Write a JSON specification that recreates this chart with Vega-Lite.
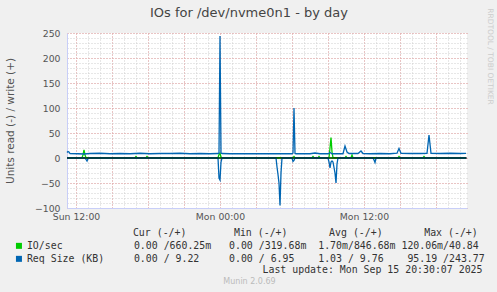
{
  "$schema": "https://vega.github.io/schema/vega-lite/v6.json",
  "width": 400,
  "height": 175,
  "autosize": {"type": "none"},
  "padding": {"left": 67, "top": 33, "right": 30, "bottom": 84},
  "background": "#f0f0f0",
  "title": {"text": "IOs for /dev/nvme0n1 - by day", "anchor": "middle", "frame": "group", "dx": -18, "font": "DejaVu Sans", "fontSize": 13, "fontWeight": "normal", "color": "#444444", "offset": -12},
  "datasets": {
    "io": [
      {"time": "2025-09-14T11:15:00Z", "series": "IO/sec", "dir": "write", "value": 0.6},
      {"time": "2025-09-14T12:30:00Z", "series": "IO/sec", "dir": "write", "value": 0.6},
      {"time": "2025-09-14T12:35:00Z", "series": "IO/sec", "dir": "write", "value": 6},
      {"time": "2025-09-14T12:40:00Z", "series": "IO/sec", "dir": "write", "value": 16},
      {"time": "2025-09-14T12:45:00Z", "series": "IO/sec", "dir": "write", "value": 6},
      {"time": "2025-09-14T12:50:00Z", "series": "IO/sec", "dir": "write", "value": 0.6},
      {"time": "2025-09-14T16:55:00Z", "series": "IO/sec", "dir": "write", "value": 0.6},
      {"time": "2025-09-14T17:00:00Z", "series": "IO/sec", "dir": "write", "value": 3},
      {"time": "2025-09-14T17:05:00Z", "series": "IO/sec", "dir": "write", "value": 0.6},
      {"time": "2025-09-14T17:50:00Z", "series": "IO/sec", "dir": "write", "value": 0.6},
      {"time": "2025-09-14T17:55:00Z", "series": "IO/sec", "dir": "write", "value": 3},
      {"time": "2025-09-14T18:00:00Z", "series": "IO/sec", "dir": "write", "value": 0.6},
      {"time": "2025-09-14T23:50:00Z", "series": "IO/sec", "dir": "write", "value": 0.6},
      {"time": "2025-09-14T23:55:00Z", "series": "IO/sec", "dir": "write", "value": 7},
      {"time": "2025-09-15T00:00:00Z", "series": "IO/sec", "dir": "write", "value": 10},
      {"time": "2025-09-15T00:05:00Z", "series": "IO/sec", "dir": "write", "value": 2},
      {"time": "2025-09-15T00:10:00Z", "series": "IO/sec", "dir": "write", "value": 0.6},
      {"time": "2025-09-15T06:05:00Z", "series": "IO/sec", "dir": "write", "value": 0.6},
      {"time": "2025-09-15T06:10:00Z", "series": "IO/sec", "dir": "write", "value": 3},
      {"time": "2025-09-15T06:15:00Z", "series": "IO/sec", "dir": "write", "value": 0.6},
      {"time": "2025-09-15T07:40:00Z", "series": "IO/sec", "dir": "write", "value": 0.6},
      {"time": "2025-09-15T07:45:00Z", "series": "IO/sec", "dir": "write", "value": 3},
      {"time": "2025-09-15T07:50:00Z", "series": "IO/sec", "dir": "write", "value": 0.6},
      {"time": "2025-09-15T08:10:00Z", "series": "IO/sec", "dir": "write", "value": 0.6},
      {"time": "2025-09-15T08:15:00Z", "series": "IO/sec", "dir": "write", "value": 3},
      {"time": "2025-09-15T08:20:00Z", "series": "IO/sec", "dir": "write", "value": 0.6},
      {"time": "2025-09-15T09:05:00Z", "series": "IO/sec", "dir": "write", "value": 0.6},
      {"time": "2025-09-15T09:10:00Z", "series": "IO/sec", "dir": "write", "value": 20},
      {"time": "2025-09-15T09:15:00Z", "series": "IO/sec", "dir": "write", "value": 40.84},
      {"time": "2025-09-15T09:20:00Z", "series": "IO/sec", "dir": "write", "value": 12},
      {"time": "2025-09-15T09:25:00Z", "series": "IO/sec", "dir": "write", "value": 0.6},
      {"time": "2025-09-15T10:25:00Z", "series": "IO/sec", "dir": "write", "value": 0.6},
      {"time": "2025-09-15T10:30:00Z", "series": "IO/sec", "dir": "write", "value": 3},
      {"time": "2025-09-15T10:35:00Z", "series": "IO/sec", "dir": "write", "value": 0.6},
      {"time": "2025-09-15T10:55:00Z", "series": "IO/sec", "dir": "write", "value": 0.6},
      {"time": "2025-09-15T11:00:00Z", "series": "IO/sec", "dir": "write", "value": 6},
      {"time": "2025-09-15T11:05:00Z", "series": "IO/sec", "dir": "write", "value": 0.6},
      {"time": "2025-09-15T14:50:00Z", "series": "IO/sec", "dir": "write", "value": 0.6},
      {"time": "2025-09-15T14:55:00Z", "series": "IO/sec", "dir": "write", "value": 3},
      {"time": "2025-09-15T15:00:00Z", "series": "IO/sec", "dir": "write", "value": 0.6},
      {"time": "2025-09-15T16:55:00Z", "series": "IO/sec", "dir": "write", "value": 0.6},
      {"time": "2025-09-15T17:00:00Z", "series": "IO/sec", "dir": "write", "value": 3},
      {"time": "2025-09-15T17:05:00Z", "series": "IO/sec", "dir": "write", "value": 0.6},
      {"time": "2025-09-15T20:30:00Z", "series": "IO/sec", "dir": "write", "value": 0.66},
      {"time": "2025-09-14T11:15:00Z", "series": "IO/sec", "dir": "read", "value": 0},
      {"time": "2025-09-15T20:30:00Z", "series": "IO/sec", "dir": "read", "value": 0}
    ],
    "req": [
      {"time": "2025-09-14T11:15:00Z", "series": "Req Size (KB)", "dir": "write", "value": 11},
      {"time": "2025-09-14T11:20:00Z", "series": "Req Size (KB)", "dir": "write", "value": 13},
      {"time": "2025-09-14T11:25:00Z", "series": "Req Size (KB)", "dir": "write", "value": 12},
      {"time": "2025-09-14T11:30:00Z", "series": "Req Size (KB)", "dir": "write", "value": 9},
      {"time": "2025-09-14T12:10:00Z", "series": "Req Size (KB)", "dir": "write", "value": 8.5},
      {"time": "2025-09-14T12:40:00Z", "series": "Req Size (KB)", "dir": "write", "value": 8},
      {"time": "2025-09-14T13:10:00Z", "series": "Req Size (KB)", "dir": "write", "value": 9},
      {"time": "2025-09-14T14:00:00Z", "series": "Req Size (KB)", "dir": "write", "value": 9.5},
      {"time": "2025-09-14T14:50:00Z", "series": "Req Size (KB)", "dir": "write", "value": 8.5},
      {"time": "2025-09-14T15:40:00Z", "series": "Req Size (KB)", "dir": "write", "value": 9},
      {"time": "2025-09-14T16:30:00Z", "series": "Req Size (KB)", "dir": "write", "value": 8.5},
      {"time": "2025-09-14T17:20:00Z", "series": "Req Size (KB)", "dir": "write", "value": 9.5},
      {"time": "2025-09-14T18:10:00Z", "series": "Req Size (KB)", "dir": "write", "value": 8.5},
      {"time": "2025-09-14T19:00:00Z", "series": "Req Size (KB)", "dir": "write", "value": 9},
      {"time": "2025-09-14T19:50:00Z", "series": "Req Size (KB)", "dir": "write", "value": 9},
      {"time": "2025-09-14T20:40:00Z", "series": "Req Size (KB)", "dir": "write", "value": 9.5},
      {"time": "2025-09-14T21:30:00Z", "series": "Req Size (KB)", "dir": "write", "value": 8.5},
      {"time": "2025-09-14T22:20:00Z", "series": "Req Size (KB)", "dir": "write", "value": 9},
      {"time": "2025-09-14T23:10:00Z", "series": "Req Size (KB)", "dir": "write", "value": 8.5},
      {"time": "2025-09-14T23:50:00Z", "series": "Req Size (KB)", "dir": "write", "value": 9},
      {"time": "2025-09-14T23:55:00Z", "series": "Req Size (KB)", "dir": "write", "value": 10},
      {"time": "2025-09-15T00:00:00Z", "series": "Req Size (KB)", "dir": "write", "value": 243.77},
      {"time": "2025-09-15T00:05:00Z", "series": "Req Size (KB)", "dir": "write", "value": 10},
      {"time": "2025-09-15T00:10:00Z", "series": "Req Size (KB)", "dir": "write", "value": 9},
      {"time": "2025-09-15T00:50:00Z", "series": "Req Size (KB)", "dir": "write", "value": 8.5},
      {"time": "2025-09-15T01:40:00Z", "series": "Req Size (KB)", "dir": "write", "value": 8.5},
      {"time": "2025-09-15T02:30:00Z", "series": "Req Size (KB)", "dir": "write", "value": 8.5},
      {"time": "2025-09-15T03:20:00Z", "series": "Req Size (KB)", "dir": "write", "value": 8.5},
      {"time": "2025-09-15T04:10:00Z", "series": "Req Size (KB)", "dir": "write", "value": 8.5},
      {"time": "2025-09-15T05:00:00Z", "series": "Req Size (KB)", "dir": "write", "value": 8.5},
      {"time": "2025-09-15T06:00:00Z", "series": "Req Size (KB)", "dir": "write", "value": 8.5},
      {"time": "2025-09-15T06:05:00Z", "series": "Req Size (KB)", "dir": "write", "value": 10},
      {"time": "2025-09-15T06:10:00Z", "series": "Req Size (KB)", "dir": "write", "value": 100},
      {"time": "2025-09-15T06:15:00Z", "series": "Req Size (KB)", "dir": "write", "value": 9},
      {"time": "2025-09-15T06:20:00Z", "series": "Req Size (KB)", "dir": "write", "value": 8.5},
      {"time": "2025-09-15T07:30:00Z", "series": "Req Size (KB)", "dir": "write", "value": 8.5},
      {"time": "2025-09-15T07:55:00Z", "series": "Req Size (KB)", "dir": "write", "value": 10},
      {"time": "2025-09-15T08:20:00Z", "series": "Req Size (KB)", "dir": "write", "value": 8.5},
      {"time": "2025-09-15T09:00:00Z", "series": "Req Size (KB)", "dir": "write", "value": 8.5},
      {"time": "2025-09-15T09:10:00Z", "series": "Req Size (KB)", "dir": "write", "value": 11},
      {"time": "2025-09-15T09:20:00Z", "series": "Req Size (KB)", "dir": "write", "value": 8.5},
      {"time": "2025-09-15T10:15:00Z", "series": "Req Size (KB)", "dir": "write", "value": 8.5},
      {"time": "2025-09-15T10:25:00Z", "series": "Req Size (KB)", "dir": "write", "value": 24},
      {"time": "2025-09-15T10:35:00Z", "series": "Req Size (KB)", "dir": "write", "value": 12},
      {"time": "2025-09-15T10:45:00Z", "series": "Req Size (KB)", "dir": "write", "value": 9},
      {"time": "2025-09-15T11:30:00Z", "series": "Req Size (KB)", "dir": "write", "value": 9},
      {"time": "2025-09-15T11:45:00Z", "series": "Req Size (KB)", "dir": "write", "value": 14},
      {"time": "2025-09-15T11:55:00Z", "series": "Req Size (KB)", "dir": "write", "value": 9},
      {"time": "2025-09-15T12:30:00Z", "series": "Req Size (KB)", "dir": "write", "value": 8.5},
      {"time": "2025-09-15T13:20:00Z", "series": "Req Size (KB)", "dir": "write", "value": 9},
      {"time": "2025-09-15T14:10:00Z", "series": "Req Size (KB)", "dir": "write", "value": 8.5},
      {"time": "2025-09-15T14:45:00Z", "series": "Req Size (KB)", "dir": "write", "value": 9.5},
      {"time": "2025-09-15T14:55:00Z", "series": "Req Size (KB)", "dir": "write", "value": 19},
      {"time": "2025-09-15T15:05:00Z", "series": "Req Size (KB)", "dir": "write", "value": 9.5},
      {"time": "2025-09-15T15:50:00Z", "series": "Req Size (KB)", "dir": "write", "value": 9},
      {"time": "2025-09-15T16:40:00Z", "series": "Req Size (KB)", "dir": "write", "value": 9},
      {"time": "2025-09-15T17:15:00Z", "series": "Req Size (KB)", "dir": "write", "value": 9.5},
      {"time": "2025-09-15T17:25:00Z", "series": "Req Size (KB)", "dir": "write", "value": 46},
      {"time": "2025-09-15T17:35:00Z", "series": "Req Size (KB)", "dir": "write", "value": 9.5},
      {"time": "2025-09-15T18:20:00Z", "series": "Req Size (KB)", "dir": "write", "value": 9},
      {"time": "2025-09-15T19:10:00Z", "series": "Req Size (KB)", "dir": "write", "value": 9.5},
      {"time": "2025-09-15T20:00:00Z", "series": "Req Size (KB)", "dir": "write", "value": 9},
      {"time": "2025-09-15T20:30:00Z", "series": "Req Size (KB)", "dir": "write", "value": 9.22},
      {"time": "2025-09-14T11:15:00Z", "series": "Req Size (KB)", "dir": "read", "value": 0},
      {"time": "2025-09-14T12:45:00Z", "series": "Req Size (KB)", "dir": "read", "value": 0},
      {"time": "2025-09-14T12:50:00Z", "series": "Req Size (KB)", "dir": "read", "value": -3},
      {"time": "2025-09-14T12:55:00Z", "series": "Req Size (KB)", "dir": "read", "value": -6},
      {"time": "2025-09-14T13:00:00Z", "series": "Req Size (KB)", "dir": "read", "value": -1},
      {"time": "2025-09-14T13:05:00Z", "series": "Req Size (KB)", "dir": "read", "value": 0},
      {"time": "2025-09-14T23:50:00Z", "series": "Req Size (KB)", "dir": "read", "value": 0},
      {"time": "2025-09-14T23:55:00Z", "series": "Req Size (KB)", "dir": "read", "value": -40},
      {"time": "2025-09-15T00:00:00Z", "series": "Req Size (KB)", "dir": "read", "value": -44},
      {"time": "2025-09-15T00:05:00Z", "series": "Req Size (KB)", "dir": "read", "value": -8},
      {"time": "2025-09-15T00:10:00Z", "series": "Req Size (KB)", "dir": "read", "value": 0},
      {"time": "2025-09-15T04:40:00Z", "series": "Req Size (KB)", "dir": "read", "value": 0},
      {"time": "2025-09-15T04:45:00Z", "series": "Req Size (KB)", "dir": "read", "value": -18},
      {"time": "2025-09-15T04:50:00Z", "series": "Req Size (KB)", "dir": "read", "value": -33},
      {"time": "2025-09-15T04:55:00Z", "series": "Req Size (KB)", "dir": "read", "value": -50},
      {"time": "2025-09-15T05:00:00Z", "series": "Req Size (KB)", "dir": "read", "value": -95.19},
      {"time": "2025-09-15T05:05:00Z", "series": "Req Size (KB)", "dir": "read", "value": -30},
      {"time": "2025-09-15T05:10:00Z", "series": "Req Size (KB)", "dir": "read", "value": 0},
      {"time": "2025-09-15T06:00:00Z", "series": "Req Size (KB)", "dir": "read", "value": 0},
      {"time": "2025-09-15T06:05:00Z", "series": "Req Size (KB)", "dir": "read", "value": -7},
      {"time": "2025-09-15T06:10:00Z", "series": "Req Size (KB)", "dir": "read", "value": -5},
      {"time": "2025-09-15T06:15:00Z", "series": "Req Size (KB)", "dir": "read", "value": 0},
      {"time": "2025-09-15T09:00:00Z", "series": "Req Size (KB)", "dir": "read", "value": 0},
      {"time": "2025-09-15T09:05:00Z", "series": "Req Size (KB)", "dir": "read", "value": -8},
      {"time": "2025-09-15T09:10:00Z", "series": "Req Size (KB)", "dir": "read", "value": -20},
      {"time": "2025-09-15T09:15:00Z", "series": "Req Size (KB)", "dir": "read", "value": -8},
      {"time": "2025-09-15T09:20:00Z", "series": "Req Size (KB)", "dir": "read", "value": -6},
      {"time": "2025-09-15T09:25:00Z", "series": "Req Size (KB)", "dir": "read", "value": -8},
      {"time": "2025-09-15T09:35:00Z", "series": "Req Size (KB)", "dir": "read", "value": -30},
      {"time": "2025-09-15T09:40:00Z", "series": "Req Size (KB)", "dir": "read", "value": -50},
      {"time": "2025-09-15T09:45:00Z", "series": "Req Size (KB)", "dir": "read", "value": -12},
      {"time": "2025-09-15T09:50:00Z", "series": "Req Size (KB)", "dir": "read", "value": 0},
      {"time": "2025-09-15T12:45:00Z", "series": "Req Size (KB)", "dir": "read", "value": 0},
      {"time": "2025-09-15T12:50:00Z", "series": "Req Size (KB)", "dir": "read", "value": -4},
      {"time": "2025-09-15T12:55:00Z", "series": "Req Size (KB)", "dir": "read", "value": -9},
      {"time": "2025-09-15T13:00:00Z", "series": "Req Size (KB)", "dir": "read", "value": 0},
      {"time": "2025-09-15T20:30:00Z", "series": "Req Size (KB)", "dir": "read", "value": 0}
    ]
  },
  "layer": [
    {
      "data": {"name": "req"},
      "mark": {"type": "line", "opacity": 0},
      "encoding": {
        "x": {"field": "time", "type": "temporal",
          "scale": {"type": "utc", "domain": [{"year": 2025, "month": 9, "date": 14, "hours": 11, "minutes": 15, "utc": true}, {"year": 2025, "month": 9, "date": 15, "hours": 20, "minutes": 35, "utc": true}]},
          "axis": {"orient": "bottom", "values": [1757851200000,1757854800000,1757858400000,1757862000000,1757865600000,1757869200000,1757872800000,1757876400000,1757880000000,1757883600000,1757887200000,1757890800000,1757894400000,1757898000000,1757901600000,1757905200000,1757908800000,1757912400000,1757916000000,1757919600000,1757923200000,1757926800000,1757930400000,1757934000000,1757937600000,1757941200000,1757944800000,1757948400000,1757952000000,1757955600000,1757959200000,1757962800000,1757966400000],
            "grid": true, "gridColor": "#cfcfcf", "gridDash": [1, 2], "labels": false, "ticks": false, "domain": false, "title": null}},
        "y": {"field": "value", "type": "quantitative",
          "scale": {"domain": [-100, 250], "nice": false, "zero": false},
          "axis": {"orient": "left", "values": [-100,-90,-80,-70,-60,-50,-40,-30,-20,-10,0,10,20,30,40,50,60,70,80,90,100,110,120,130,140,150,160,170,180,190,200,210,220,230,240,250],
            "grid": true, "gridColor": "#cfcfcf", "gridDash": [1, 2], "labels": false, "ticks": false, "domain": false, "title": null}},
        "detail": {"field": "dir"}
      }
    },
    {
      "data": {"name": "req"},
      "mark": {"type": "line", "opacity": 0},
      "encoding": {
        "x": {"field": "time", "type": "temporal",
          "axis": {"orient": "bottom", "values": [1757851200000,1757862000000,1757872800000,1757883600000,1757894400000,1757905200000,1757916000000,1757926800000,1757937600000,1757948400000,1757959200000],
            "grid": true, "gridColor": "#eaa0a0", "gridDash": [1, 2], "ticks": false, "domain": true, "domainColor": "#c8cef8", "labelPadding": 4,
            "labelExpr": "utchours(datum.value) % 12 == 0 ? utcFormat(datum.value, '%a %H:%M') : ''",
            "title": "Last update: Mon Sep 15 20:30:07 2025", "titleFont": "DejaVu Sans Mono", "titleFontSize": 9.9, "titleColor": "#333333",
            "titleX": 415, "titleY": 61, "titleAlign": "right", "titleBaseline": "middle", "titleAngle": 0}},
        "y": {"field": "value", "type": "quantitative",
          "axis": {"orient": "left", "values": [-100, -50, 0, 50, 100, 150, 200, 250],
            "grid": true, "gridColor": "#eaa0a0", "gridDash": [1, 2], "ticks": false, "domain": true, "domainColor": "#c8cef8", "labelPadding": 7,
            "title": "Units read (-) / write (+)", "titleFontSize": 10.5, "titleX": -57, "titleY": 87.5, "titleAngle": 270, "titleAlign": "center", "titleBaseline": "middle"}},
        "detail": {"field": "dir"}
      }
    },
    {
      "data": {"name": "io"},
      "mark": {"type": "line", "strokeWidth": 1.3},
      "encoding": {
        "x": {"field": "time", "type": "temporal", "axis": null},
        "y": {"field": "value", "type": "quantitative", "axis": null},
        "detail": {"field": "dir"},
        "color": {"field": "series", "type": "nominal",
          "scale": {"domain": ["IO/sec", "Req Size (KB)"], "range": ["#00cc00", "#0066b3"]},
          "legend": {"orient": "none", "legendX": -53, "legendY": 195,
            "title": "\u200b\u00a0\u00a0\u00a0\u00a0\u00a0\u00a0\u00a0\u00a0\u00a0\u00a0\u00a0\u00a0\u00a0\u00a0\u00a0\u00a0\u00a0\u00a0\u00a0\u00a0Cur\u00a0(-/+)\u00a0\u00a0\u00a0\u00a0\u00a0\u00a0\u00a0\u00a0Min\u00a0(-/+)\u00a0\u00a0\u00a0\u00a0\u00a0\u00a0\u00a0Avg\u00a0(-/+)\u00a0\u00a0\u00a0\u00a0\u00a0\u00a0\u00a0Max\u00a0(-/+)",
            "labelExpr": "datum.label == 'IO/sec' ? 'IO/sec\u00a0\u00a0\u00a0\u00a0\u00a0\u00a0\u00a0\u00a0\u00a0\u00a0\u00a0\u00a00.00\u00a0/660.25m\u00a0\u00a0\u00a00.00\u00a0/319.68m\u00a0\u00a01.70m/846.68m\u00a0120.06m/40.84' : 'Req\u00a0Size\u00a0(KB)\u00a0\u00a0\u00a0\u00a0\u00a00.00\u00a0/\u00a09.22\u00a0\u00a0\u00a0\u00a0\u00a00.00\u00a0/\u00a06.95\u00a0\u00a0\u00a0\u00a01.03\u00a0/\u00a09.76\u00a0\u00a0\u00a0\u00a095.19\u00a0/243.77'",
            "symbolType": "square", "symbolSize": 36, "symbolStrokeWidth": 0,
            "labelFont": "DejaVu Sans Mono", "labelFontSize": 9.9, "labelColor": "#333333", "labelLimit": 1000, "labelOffset": 3,
            "titleFont": "DejaVu Sans Mono", "titleFontSize": 9.9, "titleFontWeight": "normal", "titleColor": "#333333", "titleLimit": 1000, "titlePadding": 3, "rowPadding": 2,
            "encode": {"symbols": {"update": {"fill": {"scale": "color", "field": "value"}, "strokeWidth": {"value": 0}}}}}}
      }
    },
    {
      "data": {"name": "req"},
      "mark": {"type": "line", "strokeWidth": 1.3},
      "encoding": {
        "x": {"field": "time", "type": "temporal", "axis": null},
        "y": {"field": "value", "type": "quantitative", "axis": null},
        "detail": {"field": "dir"},
        "color": {"field": "series", "type": "nominal"}
      }
    },
    {
      "data": {"values": [{"value": 0}]},
      "mark": {"type": "rule", "color": "#000000", "strokeWidth": 1},
      "encoding": {"y": {"field": "value", "type": "quantitative", "axis": null}}
    },
    {
      "data": {"name": "req"},
      "mark": {"type": "line", "opacity": 0},
      "encoding": {
        "x": {"field": "time", "type": "temporal",
          "axis": {"orient": "bottom", "grid": false, "labels": false, "ticks": false, "domain": false,
            "title": "Munin 2.0.69", "titleFont": "DejaVu Sans", "titleFontSize": 8, "titleColor": "#bbbbbb",
            "titleX": 182, "titleY": 73, "titleAlign": "center", "titleBaseline": "middle", "titleAngle": 0}},
        "y": {"field": "value", "type": "quantitative",
          "axis": {"orient": "right", "grid": false, "labels": false, "ticks": false, "domain": false,
            "title": "RRDTOOL / TOBI OETIKER", "titleFont": "DejaVu Sans", "titleFontSize": 7.5, "titleColor": "#cccccc",
            "titleX": 22.5, "titleY": 23, "titleAngle": 90, "titleAlign": "center", "titleBaseline": "middle"}},
        "detail": {"field": "dir"}
      }
    }
  ],
  "resolve": {"axis": {"x": "independent", "y": "independent"}},
  "config": {
    "view": {"fill": "#ffffff", "stroke": null},
    "axis": {"labelFont": "DejaVu Sans", "labelFontSize": 9.3, "labelColor": "#555555", "titleFont": "DejaVu Sans", "titleFontWeight": "normal", "titleColor": "#555555", "titleFontSize": 9.5}
  }
}
